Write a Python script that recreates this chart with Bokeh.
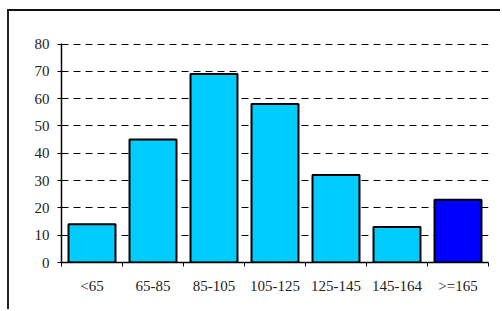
from bokeh.plotting import figure
from bokeh.models import FixedTicker, Range1d
from bokeh.embed import file_html
from bokeh.resources import INLINE

categories = ["<65", "65-85", "85-105", "105-125", "125-145", "145-164", ">=165"]
counts = [14, 45, 69, 58, 32, 13, 23]
bar_colors = ["#00CCFF", "#00CCFF", "#00CCFF", "#00CCFF", "#00CCFF", "#00CCFF", "#0000FF"]
y_ticks = [0, 10, 20, 30, 40, 50, 60, 70, 80]

n = len(categories)
centers = [i + 0.5 for i in range(n)]
bounds = [float(i) for i in range(n + 1)]

p = figure(width=493, height=300, output_backend="svg", toolbar_location=None,
           x_range=Range1d(0, n), y_range=Range1d(0, 80.2))
p.min_border_left = 52
p.min_border_right = 14
p.min_border_top = 32
p.min_border_bottom = 49
p.outline_line_color = None
p.background_fill_color = "white"
p.border_fill_color = "white"
p.styles = {"margin-left": "7px", "margin-top": "9px",
            "border-left": "2px solid #222", "border-top": "2px solid #111"}

p.vbar(x=centers, top=counts, width=0.77, bottom=0, fill_color=bar_colors,
       line_color="black", line_width=2)

font = "Liberation Serif"

xa = p.xaxis[0]
xa.ticker = FixedTicker(ticks=centers, minor_ticks=bounds)
xa.major_label_overrides = {c: lab for c, lab in zip(centers, categories)}
xa.major_tick_line_color = None
xa.major_tick_out = 0
xa.major_tick_in = 0
xa.minor_tick_line_color = "black"
xa.minor_tick_out = 4
xa.minor_tick_in = 0
xa.axis_line_color = "black"
xa.axis_line_width = 1.5
xa.major_label_text_font = font
xa.major_label_text_font_size = "15px"
xa.major_label_text_color = "#222"
xa.major_label_standoff = 11

ya = p.yaxis[0]
ya.ticker = FixedTicker(ticks=y_ticks, minor_ticks=[])
ya.major_tick_out = 4
ya.major_tick_in = 2
ya.major_tick_line_color = "black"
ya.axis_line_color = "black"
ya.axis_line_width = 1.5
ya.major_label_text_font = font
ya.major_label_text_font_size = "15px"
ya.major_label_text_color = "#222"
ya.major_label_standoff = 8

p.xgrid.grid_line_color = None
p.ygrid.ticker = FixedTicker(ticks=y_ticks[1:], minor_ticks=[])
p.ygrid.grid_line_color = "black"
p.ygrid.grid_line_dash = "7 5"
p.ygrid.grid_line_width = 1

open("out.html", "w").write(file_html(p, INLINE))
